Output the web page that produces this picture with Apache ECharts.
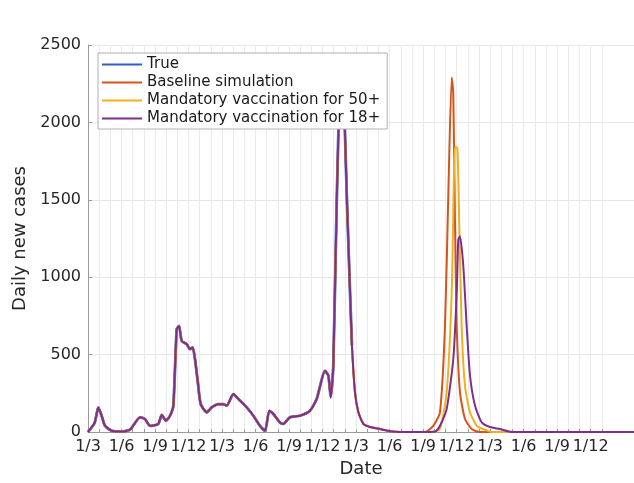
<!DOCTYPE html>
<html>
<head>
<meta charset="utf-8">
<script src="https://cdn.jsdelivr.net/npm/echarts@6/dist/echarts.min.js"></script>
<style>
  html, body { margin: 0; padding: 0; background: #fff; }
  #chart { width: 634px; height: 483px; }
</style>
</head>
<body>
<div id="chart"></div>
<script>
// x = months since 1 March 2020, y = daily new cases
const quarterLabels = ['1/3', '1/6', '1/9', '1/12']

const trueCases = [
  [0, 0], [0.6, 60], [0.92, 159], [1.2, 110], [1.52, 40], [2.12, 8], [3.0, 3], [3.76, 15],
  [4.66, 95], [5.1, 84], [5.55, 40], [6.29, 52], [6.6, 110], [6.98, 73], [7.34, 105],
  [7.64, 170], [7.94, 664], [8.15, 685], [8.39, 588], [8.84, 567], [9.13, 535], [9.37, 546],
  [9.58, 470], [9.87, 298], [10.09, 180], [10.63, 127], [11.07, 159], [11.67, 180],
  [12.11, 180], [12.42, 170], [13.01, 245], [13.46, 213], [14.21, 159], [14.8, 105],
  [15.4, 40], [15.85, 8], [16.23, 137], [16.59, 116], [17.19, 62], [17.48, 52], [18.08, 95],
  [18.98, 105], [19.87, 137], [20.47, 213], [21.22, 395], [21.52, 363], [21.73, 224],
  [21.96, 427], [22.27, 1501], [22.57, 2300], [22.8, 2400], [23.01, 1920], [23.16, 1544],
  [23.46, 900], [23.63, 560]
]

// tail of the first wave shared by all simulations
const simDecline = [
  [23.9, 258], [24.2, 129], [24.65, 52], [25.25, 32], [26.14, 19], [27.04, 5], [28, 0]
]

const baselineWave = [
  [30.17, 0], [30.91, 40], [31.51, 127], [31.96, 685], [32.26, 1544], [32.56, 2290],
  [32.7, 2188], [32.86, 1329], [33.01, 685], [33.3, 256], [33.75, 84], [34.35, 19],
  [35.09, 0], [48.88, 0]
]

const over50Wave = [
  [30.8, 0], [31.51, 20], [32.11, 256], [32.56, 900], [32.86, 1845], [33.07, 1834],
  [33.24, 1329], [33.45, 685], [33.75, 298], [34.2, 127], [34.8, 40], [35.39, 19],
  [36.17, 0], [48.88, 0]
]

const over18Wave = [
  [30.6, 0], [31.15, 5], [31.51, 40], [32.11, 148], [32.7, 470], [33.01, 900], [33.15, 1243],
  [33.3, 1265], [33.6, 1071], [33.9, 685], [34.2, 363], [34.65, 170], [35.25, 62],
  [35.99, 32], [36.88, 19], [37.96, 0], [48.88, 0]
]

const seriesNames = ['True', 'Baseline simulation', 'Mandatory vaccination for 50+', 'Mandatory vaccination for 18+']
const seriesColors = ['#2f5fc4', '#d95319', '#edb120', '#7e2f8e']

const X_MAX = 48.88
const GRID_MONTHS = 46
const plotW = 634 - 88
const font = 'DejaVu Sans'

const simFirst = trueCases.concat(simDecline)
const seriesData = [
  trueCases,
  simFirst.concat(baselineWave),
  simFirst.concat(over50Wave),
  simFirst.concat(over18Wave)
]

const chart = echarts.init(document.getElementById('chart'))
chart.setOption({
  animation: false,
  textStyle: { fontFamily: font },
  grid: [
    { left: 88, right: 0, top: 45, bottom: 50 },
    { left: 88, right: 634 - 88 - plotW * GRID_MONTHS / X_MAX, top: 45, bottom: 50 }
  ],
  legend: {
    orient: 'vertical',
    left: 98,
    top: 53,
    data: seriesNames,
    icon: 'rect',
    backgroundColor: '#fff',
    borderColor: '#b0b0b0',
    borderWidth: 1,
    borderRadius: 0,
    padding: [4, 7, 3, 4],
    itemWidth: 40,
    itemHeight: 2,
    itemGap: 3,
    textStyle: { fontFamily: font, fontSize: 15, lineHeight: 15, color: '#1a1a1a' }
  },
  xAxis: [
    {
      type: 'value',
      gridIndex: 0,
      min: 0,
      max: X_MAX,
      axisLine: { show: true, lineStyle: { color: '#9a9a9a', width: 1 } },
      axisTick: { show: false },
      axisLabel: { show: false },
      splitLine: { show: false },
      name: 'Date',
      nameLocation: 'middle',
      nameGap: 28,
      nameTextStyle: { fontFamily: font, fontSize: 18, color: '#262626' }
    },
    {
      type: 'value',
      gridIndex: 1,
      min: 0,
      max: GRID_MONTHS,
      interval: 1,
      axisLine: { show: false },
      axisTick: { show: true, inside: true, length: 4, lineStyle: { color: '#9a9a9a' } },
      axisLabel: {
        margin: 6,
        fontFamily: font,
        fontSize: 16,
        color: '#262626',
        showMinLabel: true,
        showMaxLabel: true,
        formatter: v => (v % 3 === 0 && v <= 45) ? quarterLabels[(v / 3) % 4] : ''
      },
      splitLine: { show: true, lineStyle: { color: '#ebebeb', width: 1 } }
    }
  ],
  yAxis: [
    {
      type: 'value',
      gridIndex: 0,
      min: 0,
      max: 2500,
      interval: 500,
      axisLine: { show: true, lineStyle: { color: '#9a9a9a', width: 1 } },
      axisTick: { show: true, inside: true, length: 4, lineStyle: { color: '#9a9a9a' } },
      axisLabel: { margin: 7, fontFamily: font, fontSize: 16, color: '#262626', formatter: v => String(v) },
      splitLine: { show: true, lineStyle: { color: '#e6e6e6', width: 1 } },
      name: 'Daily new cases',
      nameLocation: 'middle',
      nameGap: 53,
      nameTextStyle: { fontFamily: font, fontSize: 18, color: '#262626' }
    },
    {
      type: 'value',
      gridIndex: 1,
      min: 0,
      max: 2500,
      show: false
    }
  ],
  series: seriesNames.map((name, i) => ({
    name: name,
    type: 'line',
    xAxisIndex: 0,
    yAxisIndex: 0,
    data: seriesData[i],
    symbol: 'none',
    smooth: 0.2,
    color: seriesColors[i],
    lineStyle: { color: seriesColors[i], width: i === 0 ? 2.8 : 2 }
  }))
})
</script>
</body>
</html>
